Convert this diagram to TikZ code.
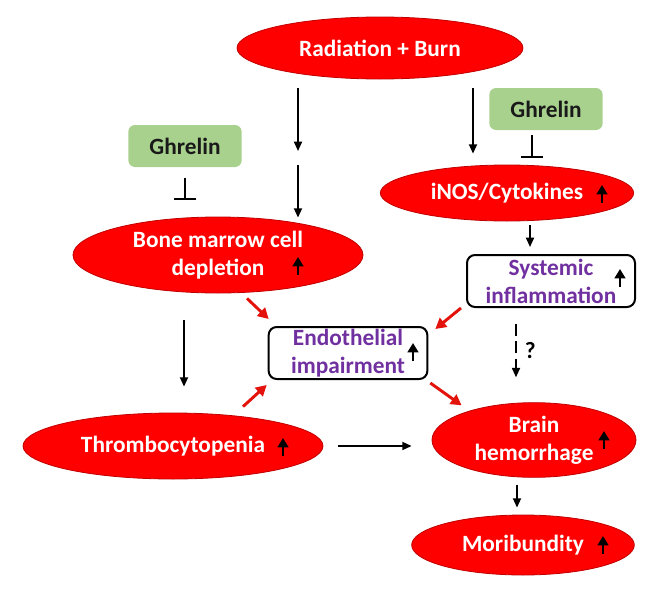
\documentclass[tikz,border=0pt]{standalone}
\usepackage{fontspec}
\setmainfont{Carlito}
\usepackage{xcolor}
\usepackage{tikz}
\usetikzlibrary{positioning,arrows.meta,calc,shapes.geometric}
\definecolor{ellred}{HTML}{FF0000}
\definecolor{ellrim}{HTML}{C00000}
\definecolor{ghgreen}{HTML}{A9D18E}
\definecolor{txtpurple}{HTML}{7030A0}
\definecolor{arrred}{HTML}{E3120B}
\newcommand{\risemark}[2]{\draw[riseup] (#1,#2+9) -- (#1,#2-9);}

\begin{document}
\begin{tikzpicture}[
    x=0.75pt,y=-0.75pt,
    every node/.style={font=\fontsize{17.5}{21}\selectfont\bfseries,align=center,inner sep=0pt},
    redell/.style={ellipse,draw=ellrim,line width=0.6pt,fill=ellred,text=white},
    greenbox/.style={rectangle,fill=ghgreen,rounded corners=5pt,text=black!90,
                     minimum width=85pt,minimum height=31.5pt},
    purplebox/.style={rectangle,draw=black,line width=1.5pt,rounded corners=6pt,
                      text=txtpurple,minimum height=39pt},
    arr/.style={-{Triangle[length=7pt,width=6pt]},line width=1.3pt,draw=black},
    redarr/.style={-{Triangle[length=8pt,width=8.5pt]},line width=2.2pt,draw=arrred},
    inhib/.style={-{Bar[width=17pt,line width=1.5pt]},line width=1.3pt,draw=black},
    riseup/.style={-{Triangle[length=7pt,width=8pt]},line width=2pt,draw=black},
]
\useasboundingbox (0,0) rectangle (661,600);

    \node[redell,minimum width=214.5pt,minimum height=46.5pt] (rad)   at (380,48)  {Radiation + Burn};
    \node[greenbox] (ghL) at (185,146) {Ghrelin};
    \node[greenbox] (ghR) at (546,109) {Ghrelin};
    \node[redell,minimum width=190pt,minimum height=42pt]   (inos)  at (507,193) {iNOS/Cytokines};
    \node[redell,minimum width=217.5pt,minimum height=57pt] (bm)    at (218,255) {Bone marrow cell\\depletion};
    \node[purplebox,minimum width=126pt] (sys)  at (551,281) {Systemic\\inflammation};
    \node[purplebox,minimum width=119pt] (endo) at (348,353) {Endothelial\\impairment};
    \node[redell,minimum width=225pt,minimum height=49.5pt] (thr)   at (173,446) {Thrombocytopenia};
    \node[redell,minimum width=153pt,minimum height=56pt]   (brain) at (534,440) {Brain\\hemorrhage};
    \node[redell,minimum width=167pt,minimum height=45pt]   (mori)  at (523,545) {Moribundity};
    \coordinate (gap) at (298,158);

    % increase marks
    \risemark{602}{194}
    \risemark{298}{266}
    \risemark{413}{352}
    \risemark{620}{278}
    \risemark{283}{447}
    \risemark{604}{440}
    \risemark{603}{545}

    % black connectors
    \draw[arr] ($(rad.south)+(-82,9)$) -- ($(gap)+(0,-7)$);
    \draw[arr] ($(gap)+(0,7)$) -- ($(bm.north)+(80,1)$);
    \draw[arr] ($(rad.south)+(93,9)$) -- ($(inos.north)+(-34,-11)$);
    \draw[inhib] ($(ghL.south)+(0,11)$) -- ($(bm.north)+(-33,-17)$);
    \draw[inhib] ($(ghR.south)+(-14,5)$) -- ($(inos.north)+(25,-7)$);
    \draw[arr] ($(inos.south)+(23,4)$) -- ($(sys.north)+(-21,-7)$);
    \draw[arr,dashed,dash pattern=on 9pt off 4pt] ($(sys.south)+(-35,16)$) -- node[right=6pt,text=black] {?} ($(brain.north)+(-18,-25)$);
    \draw[arr] ($(bm.south)+(-34,27)$) -- ($(thr.north)+(11,-26)$);
    \draw[arr] ($(thr.east)+(15,0)$) -- ($(brain.west)+(-20,6)$);
    \draw[arr] ($(brain.south)+(-17,7)$) -- ($(mori.north)+(-6,-7)$);

    % red connectors
    \draw[redarr] ($(bm.south)+(29,5)$) -- ($(endo.north west)+(1,-7)$);
    \draw[redarr] ($(sys.south west)+(-5,0)$) -- ($(endo.north east)+(7,3)$);
    \draw[redarr] ($(thr.north)+(70,-6)$) -- ($(endo.south west)+(-1,5)$);
    \draw[redarr] ($(endo.south east)+(2,3)$) -- ($(brain.north west)+(0,-8)$);
\end{tikzpicture}
\end{document}
